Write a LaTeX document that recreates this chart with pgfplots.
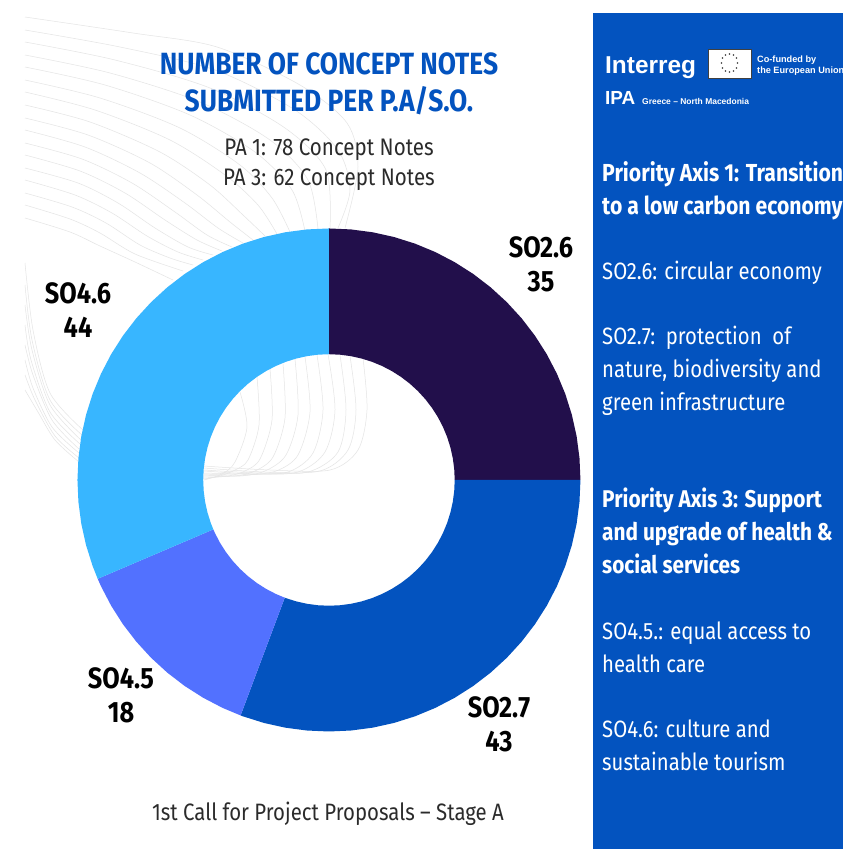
\documentclass[border=0pt]{standalone}
\usepackage{pgfplots}
\pgfplotsset{compat=1.18}
\usepackage{fontspec}
\setmainfont{Fira Sans}[FakeStretch=0.86]
\newfontfamily\logofont{Liberation Sans}
\definecolor{panel}{HTML}{0353BF}
\definecolor{deep}{HTML}{220F4B}
\definecolor{mid}{HTML}{5271FF}
\definecolor{sky}{HTML}{38B6FF}
\definecolor{ink}{HTML}{2B2B2B}
\definecolor{deco}{HTML}{E4E4E4}
\pgfplotsset{canvas/.style={scale only axis,hide axis,clip=true,
  anchor=south west,at={(0,0)}},
  dl/.style={deco,line width=0.5bp,smooth,no marks}}
\tikzset{T/.style={anchor=base,inner sep=0pt,align=center,font=\fontsize{#1}{#1}\selectfont},
 P/.style={anchor=base west,inner sep=0pt,text=white,font=\fontsize{#1}{#1}\selectfont},
 PB/.style={anchor=base west,inner sep=0pt,text=white,font=\fontsize{#1}{#1}\selectfont\bfseries},
 B/.style={anchor=base,inner sep=0pt,font=\fontsize{#1}{#1}\selectfont\bfseries},
 L/.style={anchor=base west,inner sep=0pt,text=white,font=\fontsize{#1}{#1}\logofont\bfseries}}
\begin{document}
\begin{tikzpicture}
\begin{axis}[canvas,x=1bp,y=1bp,xmin=0,xmax=843,ymin=0,ymax=849,y dir=reverse]
% page
\addplot[fill=white,draw=none,forget plot] coordinates {(0,0)(843,0)(843,849)(0,849)} -- cycle;
% decorative hairlines
\addplot[dl] coordinates {(25,17)(133,33)(217,47)(300,85)(347,123)(358,167)(345,228)};
\addplot[dl] coordinates {(25,30)(120,47)(215,70)(295,110)(338,150)(350,190)(338,228)};
\addplot[dl] coordinates {(25,42)(115,60)(210,88)(285,128)(326,170)(330,229)};
\addplot[dl] coordinates {(25,55)(110,73)(200,102)(270,140)(308,180)(318,229)};
\addplot[dl] coordinates {(25,67)(105,85)(190,115)(255,152)(292,190)(305,231)};
\addplot[dl] coordinates {(25,80)(100,98)(180,128)(240,165)(272,198)(290,232)};
\addplot[dl] coordinates {(25,92)(95,110)(170,140)(225,175)(258,205)(277,234)};
\addplot[dl] coordinates {(25,105)(90,122)(160,152)(210,185)(243,215)(265,236)};
\addplot[dl] coordinates {(25,118)(88,135)(150,163)(197,195)(230,222)(253,240)};
\addplot[dl] coordinates {(25,130)(85,147)(140,173)(185,203)(218,228)(243,243)};
\addplot[dl] coordinates {(25,143)(82,159)(132,183)(175,212)(207,235)(232,247)};
\addplot[dl] coordinates {(25,155)(80,171)(125,193)(165,220)(197,240)(222,251)};
\addplot[dl] coordinates {(25,168)(78,183)(118,203)(155,228)(188,247)(213,255)};
\addplot[dl] coordinates {(25,180)(75,195)(112,213)(147,236)(178,252)(203,260)};
\addplot[dl] coordinates {(25,193)(72,207)(106,223)(140,245)(170,258)(193,265)};
\addplot[dl] coordinates {(25,205)(70,219)(100,233)(135,254)(183,271)};
\addplot[dl] coordinates {(25,218)(70,232)(100,246)(135,262)(173,280)};
\addplot[dl] coordinates {(363,358)(367,410)(358,450)(330,470)(270,470)(204,466)};
\addplot[dl] coordinates {(350,356)(356,410)(348,450)(320,471)(265,472)(204,468)};
\addplot[dl] coordinates {(340,355)(346,410)(338,452)(308,472)(260,473)(204,470)};
\addplot[dl] coordinates {(328,354)(335,410)(325,452)(298,472)(255,474)(204,471)};
\addplot[dl] coordinates {(317,355)(323,410)(313,453)(288,472)(250,474)(204,473)};
\addplot[dl] coordinates {(305,357)(310,412)(298,455)(276,471)(245,475)(204,474)};
\addplot[dl] coordinates {(295,359)(298,415)(286,455)(265,471)(240,476)(204,475)};
\addplot[dl] coordinates {(283,364)(285,418)(273,457)(255,471)(235,476)(204,476)};
\addplot[dl] coordinates {(270,369)(272,420)(260,459)(245,471)(228,476)(204,478)};
\addplot[dl] coordinates {(257,377)(259,425)(248,460)(235,470)(220,476)(204,479)};
\addplot[dl] coordinates {(240,392)(247,427)(235,462)(222,474)(204,480)};
\addplot[dl] coordinates {(25,263)(33,330)(50,393)(83,430)};
\addplot[dl] coordinates {(25,285)(32,340)(50,400)(82,435)};
\addplot[dl] coordinates {(25,305)(32,350)(50,405)(81,440)};
\addplot[dl] coordinates {(25,325)(31,360)(50,412)(80,444)};
\addplot[dl] coordinates {(25,345)(33,375)(52,420)(79,449)};
\addplot[dl] coordinates {(25,360)(33,388)(52,427)(79,453)};
\addplot[dl] coordinates {(25,375)(35,400)(55,436)(79,458)};
\addplot[dl] coordinates {(25,390)(38,412)(55,440)(79,462)};
% right panel
\addplot[fill=panel,draw=none] coordinates {(593,13)(843,13)(843,849)(593,849)} -- cycle;
% EU flag
\addplot[fill=white,draw=black!75,line width=0.8bp] coordinates {(708,49)(751,49)(751,78)(708,78)} -- cycle;
\addplot[only marks,mark=*,mark size=0.6bp,mark options={draw=black!70,fill=black!70}] coordinates
 {(729.5,54)(733.5,55)(736.5,58)(737.5,63)(736.5,68)(733.5,71)(729.5,72)(725.5,71)(722.5,68)(721.5,63)(722.5,58)(725.5,55)};
% text
\node[L=24.5] at (axis cs:605,73) {Interreg};
\node[L=19] at (axis cs:605,104) {IPA};
\node[L=8.5] at (axis cs:642,104) {Greece – North Macedonia};
\node[L=9.2] at (axis cs:757,62) {Co-funded by};
\node[L=9.2] at (axis cs:757,73) {the European Union};
\node[B=30.8,text=panel] at (axis cs:329,74) {NUMBER OF CONCEPT NOTES};
\node[B=30.8,text=panel] at (axis cs:329,111) {SUBMITTED PER P.A/S.O.};
\node[T=24,text=ink] at (axis cs:329,155) {PA 1: 78 Concept Notes};
\node[T=24,text=ink] at (axis cs:329,185) {PA 3: 62 Concept Notes};
\node[T=23.8,text=ink] at (axis cs:328,820) {1st Call for Project Proposals – Stage A};
\node[B=29.5] at (axis cs:78,303) {SO4.6};
\node[B=29.5] at (axis cs:78,337) {44};
\node[B=29.5] at (axis cs:541,257) {SO2.6};
\node[B=29.5] at (axis cs:541,291) {35};
\node[B=29.5] at (axis cs:121,688) {SO4.5};
\node[B=29.5] at (axis cs:121,722) {18};
\node[B=29.5] at (axis cs:499,717) {SO2.7};
\node[B=29.5] at (axis cs:499,751) {43};
\node[PB=24.7] at (axis cs:602,181) {Priority Axis 1: Transition};
\node[PB=24.7] at (axis cs:602,214) {to a low carbon economy};
\node[P=23.7] at (axis cs:602,279) {SO2.6: circular economy};
\node[P=23.7] at (axis cs:602,344) {SO2.7:\ \ protection\ \ of};
\node[P=23.7] at (axis cs:602,377) {nature, biodiversity and};
\node[P=23.7] at (axis cs:602,410) {green infrastructure};
\node[PB=24.3] at (axis cs:602,507) {Priority Axis 3: Support};
\node[PB=24.3] at (axis cs:602,540) {and upgrade of health \&};
\node[PB=24.3] at (axis cs:602,573) {social services};
\node[P=23.7] at (axis cs:602,639) {SO4.5.: equal access to};
\node[P=23.7] at (axis cs:602,672) {health care};
\node[P=23.7] at (axis cs:602,737) {SO4.6: culture and};
\node[P=23.7] at (axis cs:602,770) {sustainable tourism};
\end{axis}
% donut: shares 35, 43, 18, 44 of 140, as ring sectors in polar data
\begin{axis}[canvas,width=843bp,height=849bp,xmin=-327,xmax=511,ymin=-366.8,ymax=477.1]
\addplot[data cs=polar,fill=deep,draw=none] coordinates {
(90,250)(85,250)(80,250)(75,250)(70,250)(65,250)(60,250)(55,250)(50,250)(45,250)(40,250)(35,250)(30,250)(25,250)(20,250)(15,250)(10,250)(5,250)(0,250)
(0,125)(5,125)(10,125)(15,125)(20,125)(25,125)(30,125)(35,125)(40,125)(45,125)(50,125)(55,125)(60,125)(65,125)(70,125)(75,125)(80,125)(85,125)(90,125)} -- cycle;
\addplot[data cs=polar,fill=panel,draw=none] coordinates {
(0,250)(-5,250)(-10,250)(-15,250)(-20,250)(-25,250)(-30,250)(-35,250)(-40,250)(-45,250)(-50,250)(-55,250)(-60,250)(-65,250)(-70,250)(-75,250)(-80,250)(-85,250)(-90,250)(-95,250)(-100,250)(-105,250)(-110,250)(-110.57,250)
(-110.57,125)(-110,125)(-105,125)(-100,125)(-95,125)(-90,125)(-85,125)(-80,125)(-75,125)(-70,125)(-65,125)(-60,125)(-55,125)(-50,125)(-45,125)(-40,125)(-35,125)(-30,125)(-25,125)(-20,125)(-15,125)(-10,125)(-5,125)(0,125)} -- cycle;
\addplot[data cs=polar,fill=mid,draw=none] coordinates {
(-110.57,250)(-115,250)(-120,250)(-125,250)(-130,250)(-135,250)(-140,250)(-145,250)(-150,250)(-155,250)(-156.86,250)
(-156.86,125)(-155,125)(-150,125)(-145,125)(-140,125)(-135,125)(-130,125)(-125,125)(-120,125)(-115,125)(-110.57,125)} -- cycle;
\addplot[data cs=polar,fill=sky,draw=none] coordinates {
(-156.86,250)(-160,250)(-165,250)(-170,250)(-175,250)(-180,250)(-185,250)(-190,250)(-195,250)(-200,250)(-205,250)(-210,250)(-215,250)(-220,250)(-225,250)(-230,250)(-235,250)(-240,250)(-245,250)(-250,250)(-255,250)(-260,250)(-265,250)(-270,250)
(-270,125)(-265,125)(-260,125)(-255,125)(-250,125)(-245,125)(-240,125)(-235,125)(-230,125)(-225,125)(-220,125)(-215,125)(-210,125)(-205,125)(-200,125)(-195,125)(-190,125)(-185,125)(-180,125)(-175,125)(-170,125)(-165,125)(-160,125)(-156.86,125)} -- cycle;
\end{axis}
\end{tikzpicture}
\end{document}
